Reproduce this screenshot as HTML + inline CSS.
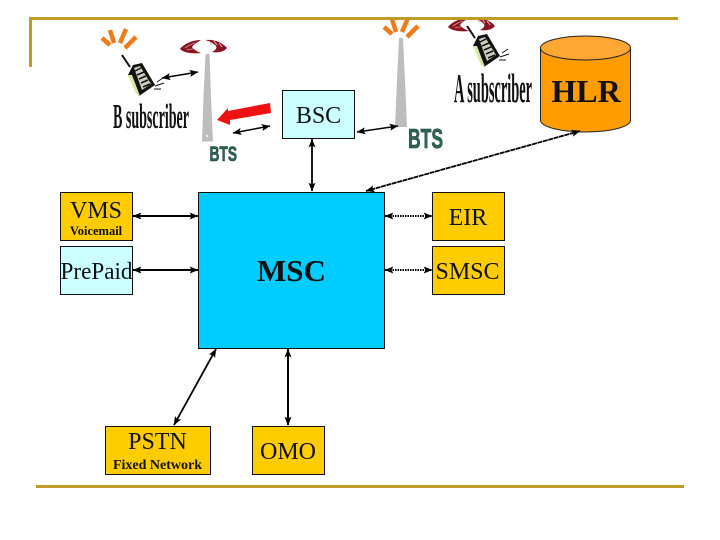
<!DOCTYPE html>
<html>
<head>
<meta charset="utf-8">
<style>
html,body{margin:0;padding:0;background:#fff;width:720px;height:540px;overflow:hidden}
svg{display:block}
text{font-family:"Liberation Serif",serif;fill:#111}
.bts{font-family:"Liberation Sans",sans-serif;font-weight:bold;fill:#2e6655;stroke:#17352c;stroke-width:.6}
</style>
</head>
<body>
<svg width="720" height="540" viewBox="0 0 720 540" xmlns="http://www.w3.org/2000/svg">
<defs>
<marker id="a" viewBox="0 0 10 8" refX="9.500" refY="4" markerWidth="9" markerHeight="7" orient="auto-start-reverse" markerUnits="userSpaceOnUse"><path d="M0 0L10 4L0 8L2 4Z" fill="#000"/></marker>
<g id="phone">
<path d="M0 0L8 12" stroke="#111" stroke-width="2"/>
<path d="M6 20L11 10L20 8L33 30L17 41Z" fill="#111"/>
<path d="M6 20L14 39L18 41L10 20Z" fill="#d5e8a0"/>
<path d="M12 13L18 11L29 29L20 35Z" fill="#cfcfc0"/>
<path d="M13 16L19 13M15 20L22 17M17 24L24 21M19 28L26 25M21 32L28 29" stroke="#111" stroke-width="1.500"/>
<path d="M33 31L42 28M35 27L41 23M32 34L39 34" stroke="#111" stroke-width="1"/>
</g>
<g id="rays" fill="none" stroke="#f07a18" stroke-width="4.500">
<path d="M-16 -1L-8 6"/><path d="M-8 -9L-4 4"/><path d="M8 -10L2 4"/><path d="M18 -2L7 9"/>
</g>
<g id="wave">
<path d="M-3 -6C-13 -6 -21 -1 -24 3C-20 7 -11 8 -3 7C-8 5 -11 3 -12 1C-10 -2 -6 -4 -3 -6Z" fill="#8a1420"/>
<path d="M-19 2C-16 0 -13 -2 -9 -3M-17 4C-15 3 -13 3 -11 3" stroke="#d8a0a0" stroke-width=".8" fill="none"/>
<path d="M1 -6C11 -7 19 -3 23 2C20 6 13 7 8 6C12 4 13 2 12 0C9 -3 5 -5 1 -6Z" fill="#8a1420"/>
<path d="M5 -5L8 -1M10 -5L13 -1M15 -3L18 1" stroke="#e8c0c0" stroke-width=".9" fill="none"/>
</g>
</defs>

<!-- left tower -->
<path d="M205.500 54H209.500L211 97L213 141.500H202L203.500 97Z" fill="#bdbdbd"/>
<circle cx="207" cy="136" r="1" fill="#fff"/>
<use href="#wave" x="204" y="46"/>
<use href="#rays" x="118" y="39"/>
<use href="#phone" x="122" y="55"/>
<line x1="162" y1="78" x2="198" y2="72" stroke="#000" stroke-width="1.500" marker-start="url(#a)" marker-end="url(#a)"/>
<text x="113" y="128" font-size="35" font-weight="bold" textLength="76" lengthAdjust="spacingAndGlyphs">B subscriber</text>

<!-- red arrow -->
<path d="M270 103L271 113L230 120L230 125L217 120L228 108L228 111Z" fill="#ee1111"/>
<line x1="233" y1="133" x2="270" y2="126" stroke="#000" stroke-width="1.500" marker-start="url(#a)" marker-end="url(#a)"/>
<text class="bts" x="209.500" y="161" font-size="21" textLength="27.500" lengthAdjust="spacingAndGlyphs">BTS</text>

<!-- right tower -->
<path d="M399 38H403L405 80L407 127H395L397 80Z" fill="#bdbdbd"/>
<use href="#rays" x="400" y="28"/>
<use href="#wave" x="472" y="24"/>
<use href="#phone" x="467" y="26"/>
<line x1="357" y1="132" x2="398" y2="126" stroke="#000" stroke-width="1.500" marker-start="url(#a)" marker-end="url(#a)"/>
<text class="bts" x="408" y="148" font-size="28" textLength="35" lengthAdjust="spacingAndGlyphs">BTS</text>
<text x="454" y="102" font-size="41" font-weight="bold" textLength="78" lengthAdjust="spacingAndGlyphs">A subscriber</text>

<!-- frame lines -->
<rect x="29" y="17" width="649" height="3" fill="#bf9b28"/>
<rect x="29" y="17" width="3" height="50" fill="#bf9b28"/>
<rect x="36" y="485" width="648" height="3" fill="#bf9b28"/>

<!-- HLR -->
<path d="M540.500 48V120C540.500 127 561 132 585.500 132C610 132 630.500 127 630.500 120V48Z" fill="#ff9c00" stroke="#222" stroke-width="1"/>
<ellipse cx="585.500" cy="48" rx="45" ry="12" fill="#ffa733" stroke="#222" stroke-width="1"/>
<text x="586" y="102" font-size="32" font-weight="bold" text-anchor="middle">HLR</text>

<!-- connectors -->
<line x1="312" y1="139" x2="312" y2="191" stroke="#000" stroke-width="1.800" marker-start="url(#a)" marker-end="url(#a)"/>
<line x1="580" y1="131" x2="366" y2="191" stroke="#000" stroke-width="1.800" stroke-dasharray="5 .6" marker-start="url(#a)" marker-end="url(#a)"/>
<line x1="133" y1="216" x2="198" y2="216" stroke="#000" stroke-width="2" marker-start="url(#a)" marker-end="url(#a)"/>
<line x1="133" y1="270" x2="198" y2="270" stroke="#000" stroke-width="2" marker-start="url(#a)" marker-end="url(#a)"/>
<line x1="385" y1="216" x2="432" y2="216" stroke="#000" stroke-width="2" stroke-dasharray="1.500 1" marker-start="url(#a)" marker-end="url(#a)"/>
<line x1="385" y1="270" x2="432" y2="270" stroke="#000" stroke-width="2" stroke-dasharray="1.500 1" marker-start="url(#a)" marker-end="url(#a)"/>
<line x1="216" y1="349" x2="174" y2="425" stroke="#000" stroke-width="1.800" marker-start="url(#a)" marker-end="url(#a)"/>
<line x1="288" y1="349" x2="288" y2="425" stroke="#000" stroke-width="2" marker-start="url(#a)" marker-end="url(#a)"/>

<!-- boxes -->
<rect x="282.500" y="90.500" width="72" height="48" fill="#ccffff" stroke="#111"/>
<text x="318.500" y="123" font-size="24" text-anchor="middle">BSC</text>

<rect x="60.500" y="192.500" width="72" height="48" fill="#ffcc00" stroke="#111"/>
<text x="96" y="218" font-size="24" text-anchor="middle">VMS</text>
<text x="96" y="235" font-size="12.500" font-weight="bold" text-anchor="middle">Voicemail</text>

<rect x="60.500" y="246.500" width="72" height="48" fill="#ccffff" stroke="#111"/>
<text x="96.500" y="279" font-size="24" text-anchor="middle" textLength="72" lengthAdjust="spacingAndGlyphs">PrePaid</text>

<rect x="198.500" y="192.500" width="186" height="156" fill="#00ccff" stroke="#111"/>
<text x="291.500" y="281" font-size="31" font-weight="bold" text-anchor="middle">MSC</text>

<rect x="432.500" y="192.500" width="72" height="48" fill="#ffcc00" stroke="#111"/>
<text x="468" y="225" font-size="24" text-anchor="middle">EIR</text>

<rect x="432.500" y="246.500" width="72" height="48" fill="#ffcc00" stroke="#111"/>
<text x="467.500" y="279" font-size="24" text-anchor="middle">SMSC</text>

<rect x="105.500" y="426.500" width="105" height="48" fill="#ffcc00" stroke="#111"/>
<text x="157.500" y="449" font-size="24" text-anchor="middle">PSTN</text>
<text x="157.500" y="469" font-size="14" font-weight="bold" text-anchor="middle">Fixed Network</text>

<rect x="252.500" y="426.500" width="72" height="48" fill="#ffcc00" stroke="#111"/>
<text x="288" y="459" font-size="24" text-anchor="middle">OMO</text>
</svg>
</body>
</html>
